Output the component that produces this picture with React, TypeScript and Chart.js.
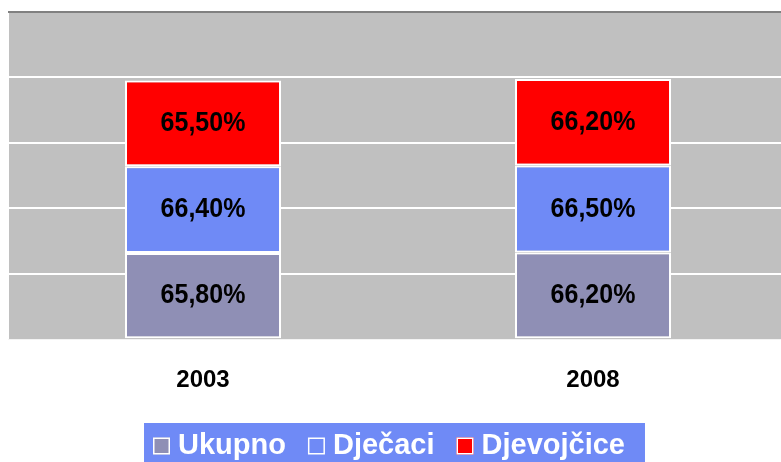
import React, { useEffect, useRef } from "react";
import { Chart, registerables } from "chart.js";

Chart.register(...registerables);

const categories = ["2003", "2008"];
const seriesNames = ["Ukupno", "Dječaci", "Djevojčice"];
const ukupno = [65.8, 66.2];
const djecaci = [66.4, 66.5];
const djevojcice = [65.5, 66.2];
const yMax = 250;
const yStep = 50;

const colors = ["#8F8FB5", "#6F8AF6", "#FF0000"];
const FONT = '"Liberation Sans", Arial, sans-serif';

const fmt = (v: number) => v.toFixed(2).replace(".", ",") + "%";

const bgPlugin = {
  id: "bgPlugin",
  beforeDraw(chart: any) {
    const { ctx, chartArea } = chart;
    ctx.save();
    ctx.fillStyle = "#C0C0C0";
    ctx.fillRect(chartArea.left, chartArea.top, chartArea.right - chartArea.left, chartArea.bottom - chartArea.top);
    ctx.strokeStyle = "#FFFFFF";
    ctx.lineWidth = 1;
    ctx.beginPath();
    ctx.moveTo(chartArea.left + 0.5, chartArea.top);
    ctx.lineTo(chartArea.left + 0.5, chartArea.bottom);
    ctx.stroke();
    ctx.restore();
  },
};

const labelPlugin = {
  id: "labelPlugin",
  afterDatasetsDraw(chart: any) {
    const { ctx } = chart;
    ctx.save();
    ctx.font = `bold 25px ${FONT}`;
    ctx.fillStyle = "#000000";
    ctx.textAlign = "center";
    ctx.textBaseline = "middle";
    chart.data.datasets.forEach((ds: any, i: number) => {
      const meta = chart.getDatasetMeta(i);
      meta.data.forEach((bar: any, j: number) => {
        const y = (bar.y + bar.base) / 2;
        ctx.save();
        ctx.translate(bar.x, y);
        ctx.scale(1, 1.1);
        ctx.fillText(fmt(ds.data[j]), 0, 0);
        ctx.restore();
      });
    });
    ctx.restore();
  },
};

const legendPlugin = {
  id: "customLegend",
  afterDraw(chart: any) {
    const { ctx } = chart;
    const H = chart.height;
    ctx.save();
    ctx.font = `bold 29px ${FONT}`;
    const box = 17;
    const gap = 8;
    const spacing = 22;
    const widths = seriesNames.map((n) => box + gap + ctx.measureText(n).width);
    const total = widths.reduce((a, b) => a + b, 0) + spacing * (seriesNames.length - 1);
    const startX = 389 - total / 2;
    const endX = startX + total;
    const top = H - 39;
    ctx.fillStyle = "#6F8AF6";
    ctx.fillRect(startX - 9, top, endX - startX + 29, 40);
    const cy = top + 23;
    let x = startX;
    seriesNames.forEach((n, i) => {
      ctx.fillStyle = colors[i];
      ctx.fillRect(x, cy - box / 2, box, box);
      ctx.strokeStyle = "#FFFFFF";
      ctx.lineWidth = 1.5;
      ctx.strokeRect(x + 0.75, cy - box / 2 + 0.75, box - 1.5, box - 1.5);
      ctx.fillStyle = "#FFFFFF";
      ctx.textAlign = "left";
      ctx.textBaseline = "middle";
      ctx.fillText(n, x + box + gap, cy);
      x += widths[i] + spacing;
    });
    ctx.restore();
  },
};

export default function App() {
  const ref = useRef<HTMLCanvasElement | null>(null);
  useEffect(() => {
    document.body.style.margin = "0";
    const canvas = ref.current!;
    const chart = new Chart(canvas, {
      type: "bar",
      data: {
        labels: categories,
        datasets: [
          { label: seriesNames[0], data: ukupno, backgroundColor: colors[0] },
          { label: seriesNames[1], data: djecaci, backgroundColor: colors[1] },
          { label: seriesNames[2], data: djevojcice, backgroundColor: colors[2] },
        ].map((d) => ({
          ...d,
          borderColor: "#FFFFFF",
          borderWidth: 2,
          borderSkipped: false,
          categoryPercentage: 1,
          barPercentage: 0.4,
        })),
      },
      options: {
        animation: false,
        responsive: false,
        maintainAspectRatio: false,
        layout: { padding: { left: 8, right: 0, top: 12, bottom: 40 } },
        plugins: {
          legend: { display: false },
          tooltip: { enabled: false },
          title: { display: false },
        },
        scales: {
          x: {
            stacked: true,
            grid: { display: false, drawTicks: false },
            border: { display: false },
            ticks: {
              padding: 27,
              color: "#000000",
              font: { family: FONT, size: 24, weight: "bold" },
            },
          },
          y: {
            stacked: true,
            min: 0,
            max: yMax,
            display: true,
            border: { display: false },
            ticks: { display: false, stepSize: yStep },
            grid: {
              drawTicks: false,
              lineWidth: 2,
              color: (c: any) =>
                c.tick && c.tick.value === yMax
                  ? "#808080"
                  : c.tick && c.tick.value === 0
                  ? "rgba(0,0,0,0)"
                  : "#FFFFFF",
            },
          },
        },
      },
      plugins: [bgPlugin, labelPlugin, legendPlugin],
    });
    return () => chart.destroy();
  }, []);
  return (
    <div style={{ position: "absolute", left: 0, top: 0, width: 781, height: 462, overflow: "hidden" }}>
      <canvas ref={ref} width={788} height={462} style={{ display: "block" }} />
    </div>
  );
}
